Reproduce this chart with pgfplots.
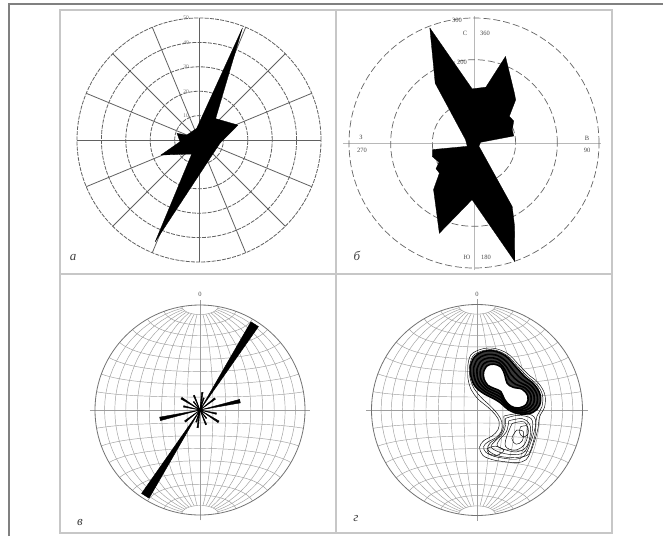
\documentclass[border=0pt]{standalone}
\usepackage{pgfplots}
\pgfplotsset{compat=1.18}
\usepackage{pgfplotstable}
\usepackage{fontspec}
\setmainfont{Liberation Serif}

\tikzset{
  netline/.style={black!38, line width=0.45pt},
  cont/.style={black, line width=0.45pt, smooth, tension=0.6},
  band/.style={black, line width=1.6pt, smooth, tension=0.6},
}
\pgfplotsset{
  /pgfplots/table/azr/.style={x expr={\thisrow{r}*sin(\thisrow{az})},y expr={\thisrow{r}*cos(\thisrow{az})}},
  /pgfplots/table/dpx/.style={x expr={(\thisrow{x}-410)/315},y expr={(420-\thisrow{y})/315}},
  panel/.style={hide axis, clip=false, anchor=origin},
}

% rose a: outline vertices (azimuth, length 0-50)
\pgfplotstableread{
az r
349 4.9
21.2 49.3
37.9 11.1
69 17.1
98.9 8.7
121.2 7.9
203.3 45.5
207.5 6.5
248.5 16.8
264.9 7.8
286.9 9.4
292.1 5.4
349 4.9
}\roseA

% rose b: outline vertices (azimuth, length 0-300)
\pgfplotstableread{
az r
339 296
358 130
12 137
20 221
39 154
44 144
53 106
61 109
71 97
80 97
84 16
123 14
149 178
154 222
161 301
182 136
201 232
221 148
229 110
236 110
241 96
252 105
261 101
244 18
292 22
327 171
339 296
}\roseB

% rose c: 5-degree bins (az, length in net radii)
\pgfplotstableread{
az r
0 0
5 0.17
10 0.17
0 0
15 0.12
20 0.12
0 0
30 0.97
35 0.97
0 0
50 0.18
55 0.18
0 0
75 0.39
80 0.39
0 0
100 0.16
105 0.16
0 0
120 0.21
125 0.21
0 0
140 0.10
145 0.10
0 0
155 0.15
160 0.15
0 0
185 0.17
190 0.17
0 0
195 0.12
200 0.12
0 0
210 0.97
215 0.97
0 0
230 0.18
235 0.18
0 0
255 0.39
260 0.39
0 0
280 0.16
285 0.16
0 0
300 0.21
305 0.21
0 0
320 0.10
325 0.10
0 0
335 0.15
340 0.15
0 0
}\roseC

% contours of panel d (picture coordinates, 3x)
\pgfplotstableread{
x y
383 285
392 255
424 238
462 236
502 252
534 284
562 313
592 338
612 372
612 410
597 440
592 475
582 512
570 545
556 569
530 577
490 574
455 568
427 555
418 530
431 511
456 497
473 478
476 455
466 436
443 412
414 388
393 360
383 325
383 285
}\cO
\pgfplotstableread{
x y
388 288
398 259
427 243
463 241
499 257
530 288
557 317
587 342
605 373
604 410
589 438
584 471
574 506
562 538
549 559
525 567
490 564
460 558
436 546
430 529
443 515
466 503
483 483
484 456
473 434
450 408
424 384
402 357
389 323
388 288
}\cOb
\pgfplotstableread{
x y
390 290
402 262
428 246
462 244
497 260
525 290
552 320
580 343
598 373
597 405
577 427
540 432
505 420
482 400
460 386
432 372
405 350
392 320
390 290
}\cR
\pgfplotstableread{
x y
400 293.75
411.5 268.5
436 255.25
467 256
496 273.75
518.75 302.5
543.5 328
571.25 346.75
589 374.25
587.25 404.25
566.5 423.75
532.5 426
501.75 412
481.75 391.25
460.5 378.5
434.5 365.5
411.5 344.5
401.25 319
400 293.75
}\cIc
\pgfplotstableread{
x y
410 297.5
421 275
444 264.5
472 268
495 287.5
512.5 315
535 336
562.5 350.5
580 375.5
577.5 403.5
556 420.5
525 420
498.5 404
481.5 382.5
461 371
437 359
418 339
410.5 318
410 297.5
}\cIb
\pgfplotstableread{
x y
420 301.25
430.5 281.5
452 273.75
477 280
494 301.25
506.25 327.5
526.5 344
553.75 354.25
571 376.75
567.75 402.75
545.5 417.25
517.5 414
495.25 396
481.25 373.75
461.5 363.5
439.5 352.5
424.5 333.5
419.75 317
420 301.25
}\cIa
\pgfplotstableread{
x y
430 305
440 288
460 283
482 292
493 315
500 340
518 352
545 358
562 378
558 402
535 414
510 408
492 388
481 365
462 356
442 346
431 328
429 316
430 305
}\cH
\pgfplotstableread{
x y
495 445
532 436
572 446
575 482
565 520
548 548
512 553
475 545
452 530
465 512
487 490
495 465
495 445
}\cTa
\pgfplotstableread{
x y
505 452
545 446
568 465
568 500
556 532
528 545
492 538
470 526
480 505
498 485
505 452
}\cTe
\pgfplotstableread{
x y
490 438
540 430
580 440
585 480
575 525
560 555
515 562
470 556
442 538
450 518
475 500
490 470
490 438
}\cTf
\pgfplotstableread{
x y
515 460
552 456
562 490
550 525
522 540
495 528
500 495
515 460
}\cTb
\pgfplotstableread{
x y
528 480
548 484
545 512
527 522
514 505
528 480
}\cTc
\pgfplotstableread{
x y
440 535
465 528
490 540
470 555
445 550
440 535
}\cTd
\pgfplotstableread{
x y
540 470
560 468
562 492
548 500
537 488
540 470
}\cTg

\newcommand{\stereonet}{%
  \pgfplotsinvokeforeach{-80,-70,-60,-50,-40,-30,-20,-10,10,20,30,40,50,60,70,80}{%
    \addplot[netline, domain=-80:80, samples=33]
      ({sqrt(1/(1+cos(x)*cos(##1)))*cos(x)*sin(##1)},{sqrt(1/(1+cos(x)*cos(##1)))*sin(x)});
    \addplot[netline, domain=-90:90, samples=37]
      ({sqrt(1/(1+cos(##1)*cos(x)))*cos(##1)*sin(x)},{sqrt(1/(1+cos(##1)*cos(x)))*sin(##1)});
  }%
  \draw[netline] (axis cs:-1.05,0) -- (axis cs:1.05,0);
  \draw[netline] (axis cs:0,-1.05) -- (axis cs:0,1.05);
  \draw[black!55, line width=0.8pt] (axis cs:0,0) circle[radius=1];
}

\begin{document}
\begin{tikzpicture}
\path[use as bounding box] (0pt,0pt) rectangle (663pt,-536pt);
\fill[white] (0pt,0pt) rectangle (663pt,-536pt);
% frames
\draw[line width=2.2pt, black!50] (9pt,-536pt) -- (9pt,-4pt) -- (663pt,-4pt);
\draw[line width=2pt, black!22] (60pt,-10pt) rectangle (612pt,-533pt);
\draw[line width=2pt, black!22] (336pt,-10pt) -- (336pt,-533pt);
\draw[line width=2pt, black!22] (60pt,-274pt) -- (612pt,-274pt);

% ---------- panel a ----------
\begin{axis}[panel, at={(199pt,-140pt)}, x=2.44pt, y=2.44pt,
  xmin=-52, xmax=52, ymin=-52, ymax=52]
  \pgfplotsinvokeforeach{10,20,30,40,50}{%
    \draw[black!62, line width=0.8pt, dash pattern=on 4pt off 1.2pt] (axis cs:0,0) circle[radius=#1];}
  \pgfplotsinvokeforeach{0,22.5,...,337.5}{%
    \draw[black!62, line width=0.8pt] (axis cs:0,0) -- (axis cs:{50*sin(#1)},{50*cos(#1)});}
  \addplot[fill=black, draw=black, line width=0.3pt] table[azr] {\roseA};
  \pgfplotsinvokeforeach{10,20,30,40,50}{%
    \node[font=\fontsize{5.5}{5.5}\selectfont, text=black!55] at (axis cs:-5.3,#1) {#1};}
\end{axis}

% ---------- panel b ----------
\begin{axis}[panel, at={(474pt,-143pt)}, x=0.41667pt, y=0.41667pt,
  xmin=-310, xmax=310, ymin=-310, ymax=310]
  \draw[black!28, line width=0.8pt] (axis cs:-315,0) -- (axis cs:305,0);
  \draw[black!28, line width=0.8pt] (axis cs:0,-305) -- (axis cs:0,305);
  \pgfplotsinvokeforeach{100,200,300}{%
    \draw[black!60, line width=0.7pt, dash pattern=on 7pt off 3pt] (axis cs:0,0) circle[radius=#1];}
  \addplot[fill=black, draw=black, line width=0.3pt] table[azr] {\roseB};
\end{axis}

% ---------- panel c ----------
\begin{axis}[panel, at={(200pt,-410pt)}, x=105pt, y=105pt,
  xmin=-1.1, xmax=1.1, ymin=-1.1, ymax=1.1]
  \stereonet
  \addplot[fill=black, draw=black, line width=0.4pt] table[azr] {\roseC};
\end{axis}

% ---------- panel d ----------
\begin{axis}[panel, at={(477pt,-410pt)}, x=105.5pt, y=105.5pt,
  xmin=-1.1, xmax=1.1, ymin=-1.1, ymax=1.1]
  \stereonet
  \addplot[fill=black!78, draw=none, smooth, tension=0.6] table[dpx] {\cR};
  \addplot[fill=white, draw=none, smooth, tension=0.6] table[dpx] {\cH};
  \addplot[cont] table[dpx] {\cO};
  \addplot[cont] table[dpx] {\cOb};
  \addplot[band] table[dpx] {\cR};
  \addplot[band] table[dpx] {\cIc};
  \addplot[band] table[dpx] {\cIb};
  \addplot[band] table[dpx] {\cIa};
  \addplot[band] table[dpx] {\cH};
  \addplot[cont] table[dpx] {\cTf};
  \addplot[cont] table[dpx] {\cTa};
  \addplot[cont] table[dpx] {\cTe};
  \addplot[cont] table[dpx] {\cTb};
  \addplot[cont] table[dpx] {\cTc};
  \addplot[cont] table[dpx] {\cTg};
  \addplot[cont] table[dpx] {\cTd};
\end{axis}

% ---------- texts ----------
\begin{scope}[every node/.style={font=\fontsize{6.5}{6.5}\selectfont, text=black!70, inner sep=0pt}]
\node at (457pt,-20pt) {300};
\node at (465pt,-33pt) {С};
\node at (485pt,-33pt) {360};
\node at (462pt,-62pt) {200};
\node at (361pt,-137pt) {З};
\node at (362pt,-150pt) {270};
\node at (587pt,-138pt) {В};
\node at (587pt,-150pt) {90};
\node at (467pt,-257pt) {Ю};
\node at (486pt,-257pt) {180};
\node at (200pt,-294pt) {0};
\node at (477pt,-294pt) {0};
\end{scope}
\begin{scope}[every node/.style={font=\fontsize{13}{13}\selectfont\itshape, text=black!75, inner sep=0pt}]
\node at (73pt,-258pt) {а};
\node at (357pt,-256pt) {б};
\node at (80pt,-522pt) {в};
\node at (356pt,-519pt) {г};
\end{scope}
\end{tikzpicture}
\end{document}
